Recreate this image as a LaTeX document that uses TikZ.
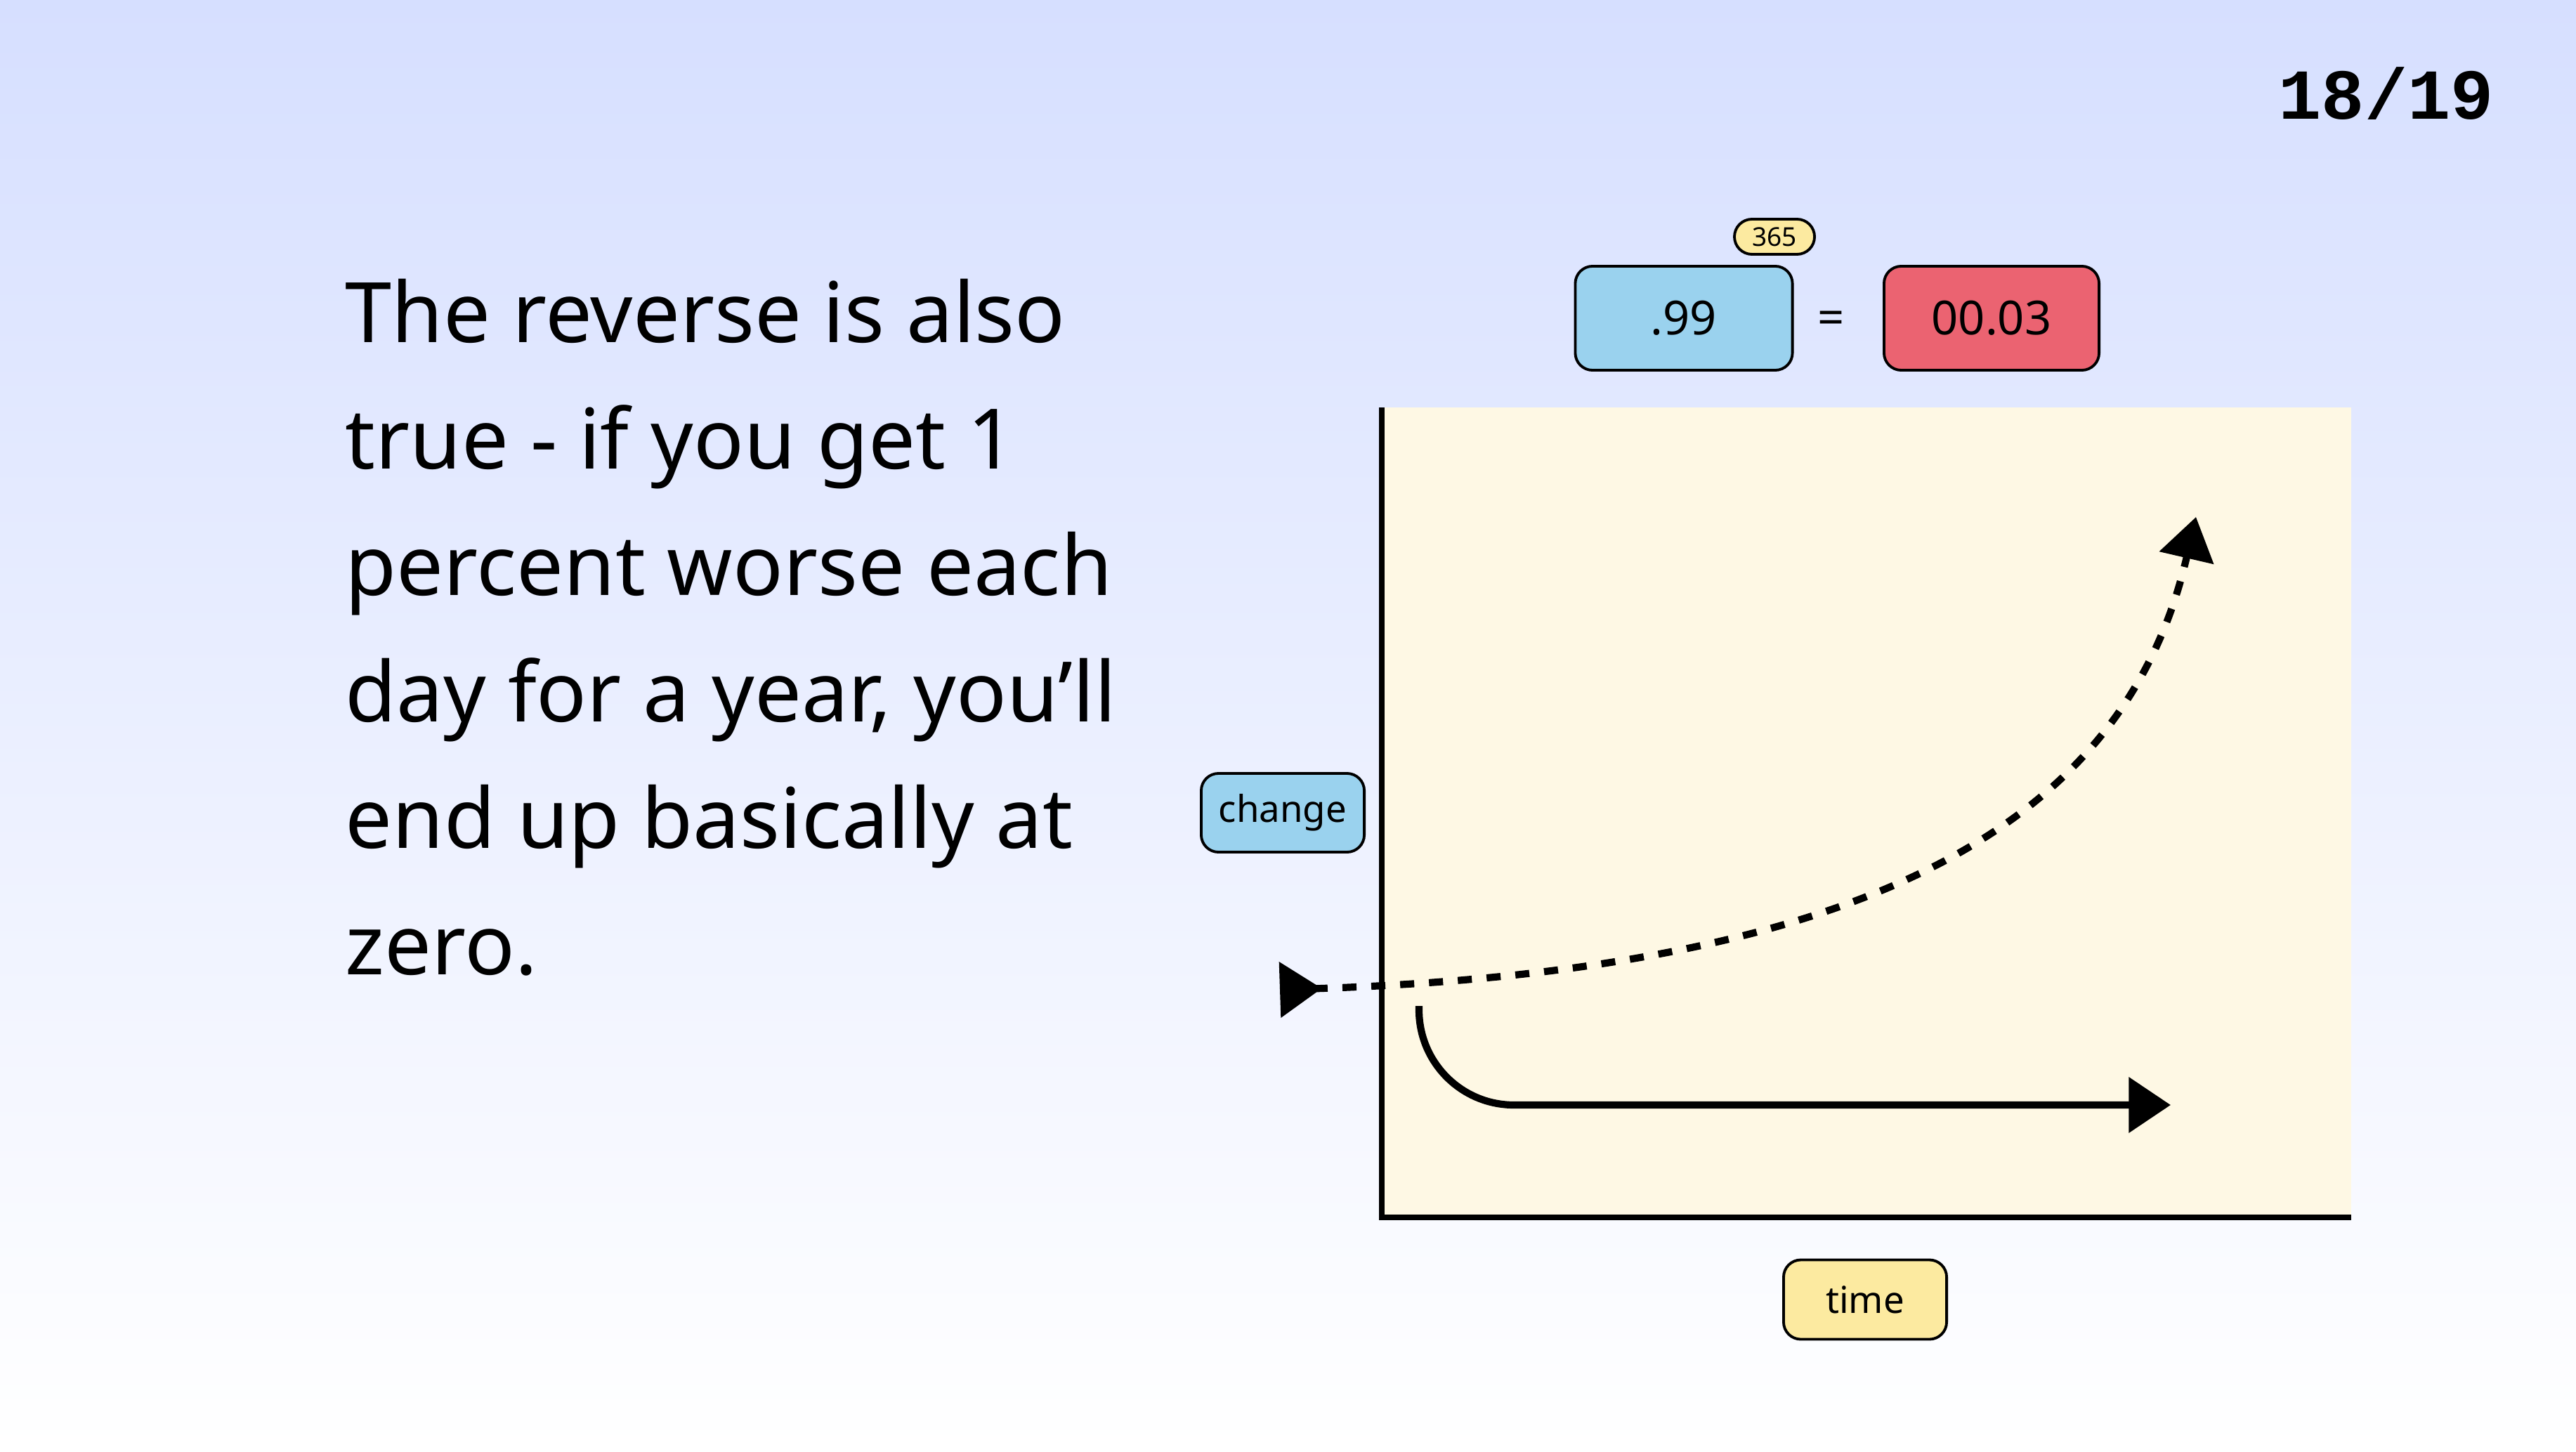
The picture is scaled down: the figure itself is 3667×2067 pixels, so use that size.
\documentclass[tikz,border=0pt]{standalone}
\usepackage{fontspec, xcolor}
\usetikzlibrary{arrows.meta}
\setmainfont{Noto Sans}
\newfontfamily\pagefont{Liberation Mono}
\definecolor{bgtop}{RGB}{214,223,255}
\definecolor{chartfill}{RGB}{254,248,228}
\definecolor{tagblue}{RGB}{154,210,238}
\definecolor{tagred}{RGB}{235,99,113}
\definecolor{tagyellow}{RGB}{252,234,160}

\begin{document}
\begin{tikzpicture}[x=0.01cm, y=-0.01cm,
    tag/.style={draw, line width=1.1pt, rounded corners=7pt, inner sep=0pt},
    curve/.style={line width=2.9pt},
    >={Triangle[length=17pt, width=22pt]}]
    \shade[top color=bgtop, bottom color=white] (0,0) rectangle (3667,2067);
    \useasboundingbox (0,0) rectangle (3667,2067);

    \node [anchor=base east, font=\pagefont\bfseries\fontsize{29}{29}\selectfont] (page) at (3562,170) {18/19};

    \node [anchor=north west, align=left, inner sep=0pt, font=\fontsize{33.8}{51.2}\selectfont] (blurb) at (491,396)
        {The reverse is also\\true - if you get 1\\percent worse each\\day for a year, you’ll\\end up basically at\\zero.};

    \node [tag, fill=tagblue, minimum width=3.09cm, minimum height=1.48cm, font=\fontsize{19}{19}\selectfont] (base) at (2397,453) {.99};
    \node [tag, fill=tagyellow, minimum width=1.14cm, minimum height=0.5cm, rounded corners=0.25cm, font=\fontsize{10.5}{10.5}\selectfont] (power) at (2526,337) {365};
    \node [font=\fontsize{19}{19}\selectfont] (equals) at (2607,459) {=};
    \node [tag, fill=tagred, minimum width=3.06cm, minimum height=1.48cm, font=\fontsize{19}{19}\selectfont] (result) at (2835,453) {00.03};

    \fill [chartfill] (1967,580) rectangle (3347,1733);
    \coordinate (top) at (1967,580);
    \coordinate (origin) at (1967,1733);
    \coordinate (right) at (3347,1733);
    \draw [line width=2.3pt] (top) -- (origin) -- (right);

    \node [tag, fill=tagblue, minimum width=2.32cm, minimum height=1.12cm, font=\fontsize{15}{15}\selectfont] (change) at (1826,1157) {change};
    \node [tag, fill=tagyellow, minimum width=2.32cm, minimum height=1.13cm, font=\fontsize{15}{15}\selectfont] (time) at (2655,1850) {time};

    \coordinate (dstart) at (1822,1409);
    \coordinate (dend) at (3126,736);
    \draw [curve, dash pattern=on 5.7pt off 6pt, {Triangle[reversed, length=17pt, width=22pt]}->] (dstart) .. controls (2700,1380) and (3030,1150) .. (dend);

    \coordinate (sstart) at (2020,1432);
    \coordinate (send) at (3090,1573);
    \draw [curve, rounded corners=1.35cm, ->] (sstart) |- (send);
\end{tikzpicture}
\end{document}
